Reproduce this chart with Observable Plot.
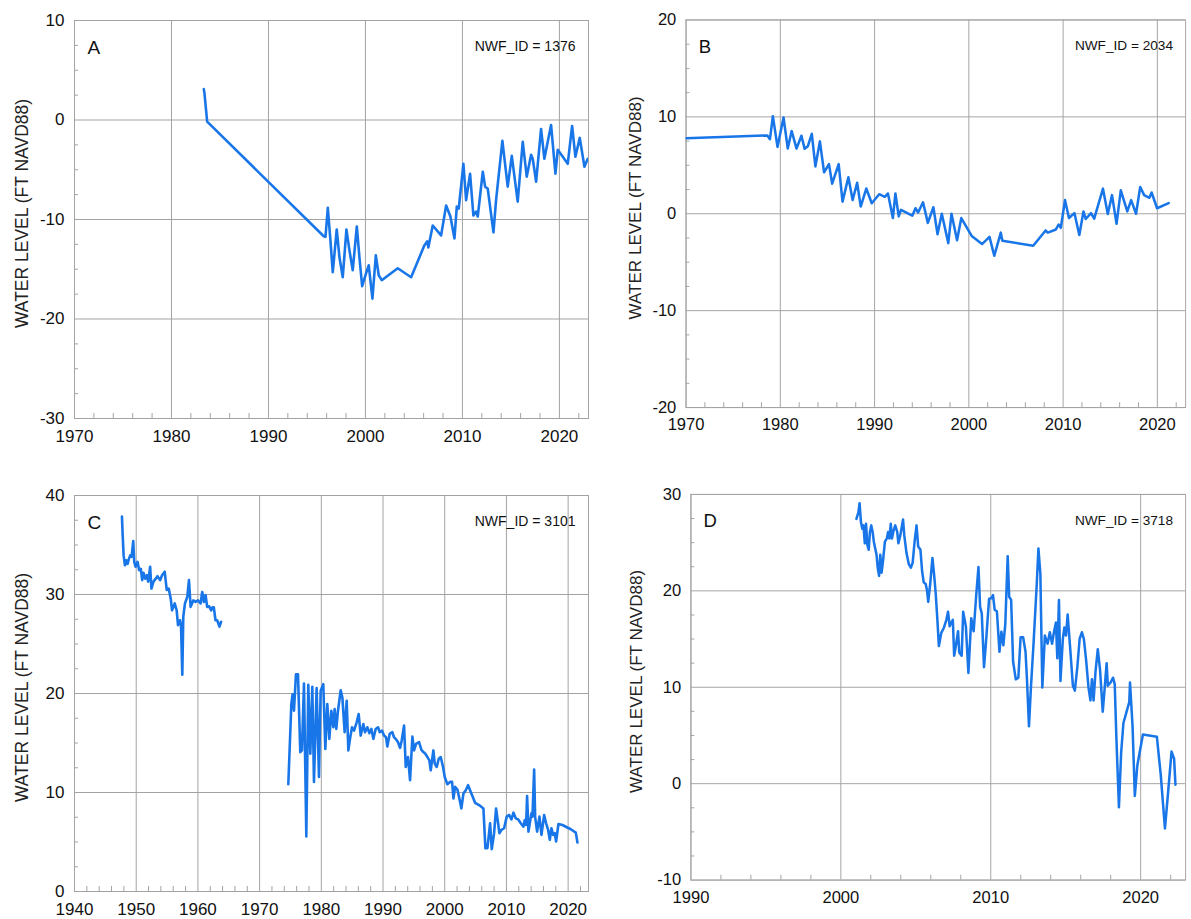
<!DOCTYPE html>
<html>
<head>
<meta charset="utf-8">
<script src="https://cdn.jsdelivr.net/npm/d3@7"></script>
<script src="https://cdn.jsdelivr.net/npm/@observablehq/plot@0.6"></script>
<style>
  html, body { margin: 0; padding: 0; background: #fff; overflow: hidden; }
  #wrap { position: relative; width: 1191px; height: 919px; overflow: hidden; background: #fff; }
  .panel { position: absolute; }
</style>
</head>
<body>
<div id="wrap"></div>
<script>
// ---------- text ----------
const panelLetters = ["A", "B", "C", "D"];
const wellIds = ["1376", "2034", "3101", "3718"];
const yAxisTitle = "WATER LEVEL (FT NAVD88)";

// ---------- tick labels ----------
const xTicksA = [1970, 1980, 1990, 2000, 2010, 2020];
const xTicksB = [1970, 1980, 1990, 2000, 2010, 2020];
const xTicksC = [1940, 1950, 1960, 1970, 1980, 1990, 2000, 2010, 2020];
const xTicksD = [1990, 2000, 2010, 2020];
const yTicksA = [-30, -20, -10, 0, 10];
const yTicksB = [-20, -10, 0, 10, 20];
const yTicksC = [0, 10, 20, 30, 40];
const yTicksD = [-10, 0, 10, 20, 30];

// ---------- series values [decimal year, water level ft NAVD88] ----------
const seriesA = [
  [1983.33,3.1],[1983.4,2.7],[1983.68,-0.17],[1995.70,-11.68],[1995.88,-11.74],[1996.12,-8.83],
  [1996.39,-12.1],[1996.63,-15.3],[1997.04,-11.0],[1997.32,-13.8],[1997.66,-15.8],[1998.04,-11.0],
  [1998.35,-13.1],[1998.69,-15.1],[1999.11,-10.7],[1999.38,-13.8],[1999.66,-16.7],[2000.07,-15.4],
  [2000.34,-14.6],[2000.72,-17.95],[2001.07,-13.6],[2001.37,-15.6],[2001.68,-16.1],[2003.33,-14.9],
  [2004.71,-15.8],[2006.08,-12.6],[2006.36,-12.2],[2006.49,-12.8],[2006.94,-10.6],[2007.80,-11.6],
  [2008.32,-8.6],[2008.76,-9.7],[2009.18,-11.9],[2009.42,-8.7],[2009.62,-8.9],[2010.10,-4.4],
  [2010.38,-8.05],[2010.79,-5.4],[2011.13,-9.6],[2011.41,-9.2],[2011.58,-9.7],[2012.10,-5.2],
  [2012.34,-6.7],[2012.61,-6.9],[2013.20,-11.3],[2013.47,-8.05],[2014.12,-2.1],[2014.67,-6.7],
  [2015.09,-3.6],[2015.70,-8.2],[2016.22,-2.2],[2016.63,-5.7],[2017.08,-3.5],[2017.25,-3.9],
  [2017.60,-6.2],[2018.11,-0.9],[2018.45,-3.9],[2019.14,-0.5],[2019.59,-5.4],[2019.83,-3.0],
  [2020.86,-4.4],[2021.31,-0.6],[2021.65,-3.7],[2022.10,-1.8],[2022.58,-4.7],[2022.92,-3.9]
];

const seriesB = [
  [1970.0,7.8],[1978.62,8.08],[1978.9,7.7],[1979.21,10.07],[1979.7,6.9],[1980.34,9.93],
  [1980.79,6.73],[1981.2,8.55],[1981.72,6.73],[1982.24,8.05],[1982.58,6.7],[1982.92,6.97],
  [1983.34,8.25],[1983.72,4.88],[1984.2,7.47],[1984.64,4.28],[1985.16,5.12],[1985.5,3.1],
  [1986.19,5.12],[1986.6,1.25],[1987.22,3.77],[1987.67,1.41],[1988.15,3.2],[1988.53,0.74],
  [1989.12,2.6],[1989.7,1.08],[1990.49,2.02],[1991.08,1.75],[1991.42,2.09],[1991.94,-0.44],
  [1992.21,2.09],[1992.56,-0.27],[1992.8,0.4],[1994.0,-0.2],[1994.34,0.57],[1994.62,0.13],
  [1995.14,1.18],[1995.65,-0.94],[1996.24,0.67],[1996.68,-2.12],[1997.13,0.0],[1997.82,-3.03],
  [1998.16,0.0],[1998.75,-2.73],[1999.2,-0.44],[2000.3,-2.29],[2001.4,-3.13],[2002.19,-2.39],
  [2002.7,-4.34],[2003.39,-1.95],[2003.56,-2.79],[2006.83,-3.3],[2008.14,-1.72],[2008.38,-1.95],
  [2009.24,-1.62],[2009.52,-1.11],[2009.76,-1.45],[2010.2,1.41],[2010.62,-0.44],[2011.2,0.07],
  [2011.72,-2.19],[2012.16,0.24],[2012.4,-0.54],[2012.96,0.07],[2013.3,-0.5],[2014.23,2.59],
  [2014.74,-0.03],[2015.19,1.92],[2015.67,-1.04],[2016.12,2.42],[2016.81,0.24],[2017.22,1.41],
  [2017.74,0.0],[2018.18,2.76],[2018.6,1.92],[2019.15,1.65],[2019.39,2.19],[2019.97,0.57],
  [2021.2,1.1]
];

const seriesC1 = [
  [1947.69,37.87],[1947.8,36.1],[1947.96,33.95],[1948.17,32.95],[1948.39,33.45],[1948.6,33.1],
  [1948.82,33.6],[1949.03,33.95],[1949.25,33.8],[1949.52,35.4],[1949.68,33.3],[1949.89,32.8],
  [1950.22,33.3],[1950.48,32.45],[1950.75,32.6],[1950.97,31.45],[1951.18,32.2],[1951.45,31.6],
  [1951.72,31.95],[1951.94,31.3],[1952.26,32.8],[1952.47,30.6],[1952.8,31.3],[1953.17,31.6],
  [1953.44,31.85],[1953.87,31.45],[1954.19,31.95],[1954.62,32.3],[1954.95,30.45],[1955.27,30.6],
  [1955.59,29.6],[1955.81,28.4],[1956.24,29.1],[1956.56,28.4],[1956.77,26.9],[1957.1,27.4],
  [1957.26,26.9],[1957.47,21.9],[1957.63,27.75],[1957.9,29.1],[1958.28,29.75],[1958.55,31.45],
  [1958.82,28.75],[1959.25,29.4],[1959.62,29.25],[1960.0,29.4],[1960.43,29.1],[1960.7,30.25],
  [1960.97,29.25],[1961.24,29.95],[1961.5,28.75],[1961.83,28.8],[1962.15,28.4],[1962.37,28.7],
  [1962.58,28.7],[1962.85,27.4],[1963.12,27.4],[1963.49,26.75],[1963.76,27.25]
];

const seriesC2 = [
  [1974.65,10.84],[1974.92,15.25],[1975.14,18.93],[1975.35,19.93],[1975.57,18.26],[1975.89,21.94],
  [1976.22,21.94],[1976.59,14.08],[1976.86,14.25],[1977.19,21.0],[1977.57,5.55],[1977.89,20.87],
  [1978.22,13.91],[1978.54,20.67],[1978.81,11.07],[1979.24,20.54],[1979.62,11.57],[1979.89,20.27],
  [1980.32,20.94],[1980.65,14.41],[1980.97,18.93],[1981.3,15.42],[1981.62,18.26],[1981.95,16.59],
  [1982.16,18.43],[1982.43,16.42],[1982.7,18.26],[1983.14,20.33],[1983.41,19.6],[1983.78,16.09],
  [1984.11,19.26],[1984.38,14.25],[1984.65,15.42],[1984.97,16.59],[1985.3,16.25],[1985.73,17.09],
  [1986.05,17.93],[1986.38,15.75],[1986.81,16.92],[1987.08,16.09],[1987.46,16.59],[1987.78,15.99],
  [1988.11,16.42],[1988.43,15.42],[1988.81,16.42],[1989.19,16.59],[1989.46,16.09],[1989.84,16.25],
  [1990.16,15.75],[1990.49,15.58],[1990.7,14.65],[1991.08,15.92],[1991.51,16.09],[1991.78,15.58],
  [1992.05,15.42],[1992.43,15.08],[1992.76,14.51],[1993.03,15.25],[1993.41,16.76],[1993.68,12.58],
  [1994.05,13.58],[1994.38,11.24],[1994.76,15.65],[1995.03,14.25],[1995.35,14.92],[1995.84,15.08],
  [1996.22,14.31],[1996.54,14.08],[1996.86,13.91],[1997.19,13.58],[1997.51,13.24],[1997.73,12.24],
  [1998.16,14.25],[1998.38,12.91],[1998.7,12.58],[1999.03,13.41],[1999.35,13.58],[1999.73,12.58],
  [2000.0,11.57],[2000.43,10.84],[2000.86,11.07],[2001.19,11.07],[2001.41,9.4],[2001.68,10.57],
  [2002.05,10.3],[2002.43,9.23],[2002.7,8.39],[2003.03,9.9],[2003.41,10.23],[2003.78,10.74],
  [2004.32,9.9],[2004.92,8.96],[2005.57,8.73],[2006.27,8.39],[2006.59,4.38],[2006.92,4.38],
  [2007.35,6.89],[2007.62,4.28],[2008.0,5.89],[2008.32,8.39],[2008.65,6.89],[2008.86,5.89],
  [2009.19,6.22],[2009.62,6.39],[2010.05,7.56],[2010.43,7.73],[2010.81,7.29],[2011.14,7.96],
  [2011.51,7.39],[2011.89,7.29],[2012.32,6.89],[2012.76,6.56],[2012.97,7.22],[2013.19,6.72],
  [2013.35,9.63],[2013.57,6.05],[2014.05,7.89],[2014.22,7.56],[2014.49,12.31],[2014.65,7.56],
  [2014.97,6.05],[2015.35,7.56],[2015.68,5.72],[2016.11,7.73],[2016.43,6.89],[2016.76,6.22],
  [2017.03,5.22],[2017.3,6.39],[2017.57,5.72],[2017.84,5.89],[2018.05,5.05],[2018.43,6.82],
  [2019.08,6.72],[2020.43,6.29],[2021.24,5.95],[2021.51,4.95]
];

const seriesD = [
  [2001.04,27.47],[2001.17,28.14],[2001.25,29.09],[2001.34,27.13],[2001.43,26.45],[2001.51,26.79],
  [2001.6,24.93],[2001.68,26.96],[2001.77,24.76],[2001.86,24.26],[2001.94,26.11],[2002.03,26.79],
  [2002.12,26.11],[2002.2,25.1],[2002.29,24.43],[2002.38,23.75],[2002.46,22.4],[2002.55,21.55],
  [2002.63,23.75],[2002.72,21.89],[2002.81,23.07],[2002.94,25.1],[2003.07,25.44],[2003.15,26.11],
  [2003.24,25.44],[2003.33,26.96],[2003.41,25.44],[2003.52,26.28],[2003.63,26.79],[2003.76,26.11],
  [2003.84,24.93],[2003.97,25.78],[2004.15,27.4],[2004.23,25.78],[2004.38,23.92],[2004.54,22.74],
  [2004.67,22.4],[2004.79,22.91],[2004.92,25.1],[2005.05,26.79],[2005.16,24.59],[2005.31,24.26],
  [2005.42,22.06],[2005.53,20.88],[2005.66,20.71],[2005.75,20.03],[2005.83,18.85],[2005.96,20.71],
  [2006.11,23.41],[2006.22,21.72],[2006.33,19.7],[2006.44,16.99],[2006.54,14.29],[2006.7,15.64],
  [2006.87,16.15],[2007.04,16.99],[2007.15,17.84],[2007.26,16.32],[2007.36,16.66],[2007.47,16.99],
  [2007.56,13.28],[2007.69,14.46],[2007.82,15.81],[2007.9,13.61],[2008.06,13.28],[2008.16,17.84],
  [2008.34,16.32],[2008.51,11.49],[2008.7,17.16],[2008.86,15.81],[2009.03,19.53],[2009.18,22.47],
  [2009.29,18.34],[2009.4,17.67],[2009.55,12.09],[2009.68,14.63],[2009.89,19.19],[2010.04,19.23],
  [2010.15,19.56],[2010.26,18.05],[2010.41,17.88],[2010.58,13.68],[2010.71,15.76],[2010.84,14.35],
  [2010.97,16.54],[2011.13,23.6],[2011.23,19.39],[2011.36,19.06],[2011.49,12.67],[2011.67,10.82],
  [2011.84,10.99],[2011.99,15.19],[2012.16,15.19],[2012.32,13.68],[2012.42,10.66],[2012.55,5.95],
  [2012.68,9.98],[2012.86,14.69],[2013.07,20.74],[2013.18,24.4],[2013.31,21.75],[2013.44,9.98],
  [2013.61,15.36],[2013.79,14.52],[2013.94,15.7],[2014.09,14.52],[2014.22,15.76],[2014.35,16.71],
  [2014.44,13.01],[2014.55,19.06],[2014.65,10.66],[2014.81,15.03],[2014.91,16.2],[2015.02,15.36],
  [2015.13,17.55],[2015.3,14.02],[2015.48,10.15],[2015.61,9.65],[2015.78,12.17],[2015.93,15.03],
  [2016.08,15.7],[2016.21,15.03],[2016.36,12.84],[2016.52,9.98],[2016.65,8.64],[2016.75,10.82],
  [2016.86,8.64],[2016.99,11.66],[2017.14,13.95],[2017.29,11.83],[2017.47,7.46],[2017.62,10.32],
  [2017.73,12.5],[2017.81,10.15],[2017.99,10.49],[2018.16,10.99],[2018.27,10.32],[2018.38,4.77],
  [2018.55,-2.45],[2018.7,3.26],[2018.85,6.29],[2019.03,7.29],[2019.24,8.47],[2019.29,10.49],
  [2019.46,5.95],[2019.61,-1.28],[2019.78,1.92],[2020.15,5.11],[2021.08,4.87],[2021.34,0.91],
  [2021.62,-4.64],[2021.8,-1.45],[2022.06,3.33],[2022.23,2.59],[2022.32,-0.1]
];

// ---------- styles ----------
const LINE_COLOR = "#1976e8";
const GRID_COLOR = "#a3a3a3";
const FONT = "'Liberation Sans', Arial, Helvetica, sans-serif";

function makePanel(cfg) {
  const {letter, id, series, xDomain, yDomain, xTicks, yTicks,
         width, height, mL, mR, mT, mB, titleDx} = cfg;
  const plotW = width - mL - mR;
  const plotH = height - mT - mB;
  const xMinor = d3.range(xDomain[0], xDomain[1] + 0.001, 2).filter(v => v % 10 !== 0);
  const yMinor = d3.range(yDomain[0], yDomain[1] + 0.001, 2.5).filter(v => v % 10 !== 0);

  const marks = [
    Plot.gridX(xTicks, {stroke: GRID_COLOR, strokeOpacity: 1, strokeWidth: 1}),
    Plot.gridY(yTicks, {stroke: GRID_COLOR, strokeOpacity: 1, strokeWidth: 1}),
    Plot.frame({stroke: GRID_COLOR, strokeWidth: 1}),
    Plot.tickX(xMinor, {x: d => d, insetTop: plotH - 5, stroke: GRID_COLOR, strokeWidth: 1}),
    Plot.tickY(yMinor, {y: d => d, insetRight: plotW - 4, stroke: GRID_COLOR, strokeWidth: 1}),
    Plot.axisX(xTicks, {tickSize: 0, tickPadding: 11, tickFormat: d => String(d), label: null, fontSize: 17}),
    Plot.axisY(yTicks, {tickSize: 0, tickPadding: 10, tickFormat: d => String(d), label: null, fontSize: 17}),
  ];
  for (const s of series) {
    marks.push(Plot.line(s, {x: d => d[0], y: d => d[1], stroke: LINE_COLOR, strokeWidth: 2.6,
      strokeLinejoin: "round", clip: true}));
  }
  marks.push(
    Plot.text([yAxisTitle], {text: d => d, frameAnchor: "left", textAnchor: "middle", lineAnchor: "middle",
      rotate: -90, dx: titleDx, dy: -6, fontSize: 17.5, fill: "#222"}),
    Plot.text([letter], {text: d => d, frameAnchor: "top-left", textAnchor: "start", dx: 13, dy: 20,
      fontSize: 19, fill: "#111"}),
    Plot.text([`NWF_ID = ${id}`], {text: d => d, frameAnchor: "top-right", textAnchor: "end", dx: -13, dy: 21,
      fontSize: 14, fill: "#111"})
  );

  return Plot.plot({
    width, height,
    marginLeft: mL, marginRight: mR, marginTop: mT, marginBottom: mB,
    x: {domain: xDomain},
    y: {domain: yDomain},
    style: {fontFamily: FONT, fontSize: "17px", color: "#111", background: "white", overflow: "visible"},
    marks
  });
}

const wrap = document.getElementById("wrap");
const panels = [
  {left: 0, top: 0, cfg: {letter: panelLetters[0], id: wellIds[0], series: [seriesA],
    xDomain: [1970, 2023], yDomain: [-30, 10], xTicks: xTicksA, yTicks: yTicksA,
    width: 595, height: 455, mL: 74, mR: 7, mT: 20, mB: 37, titleDx: -52}},
  {left: 595, top: 0, cfg: {letter: panelLetters[1], id: wellIds[1], series: [seriesB],
    xDomain: [1970, 2023], yDomain: [-20, 20], xTicks: xTicksB, yTicks: yTicksB,
    width: 612, height: 455, mL: 93, mR: 6, mT: 20, mB: 37, titleDx: -52}},
  {left: 0, top: 455, cfg: {letter: panelLetters[2], id: wellIds[2], series: [seriesC1, seriesC2],
    xDomain: [1940, 2023.3], yDomain: [0, 40], xTicks: xTicksC, yTicks: yTicksC,
    width: 595, height: 464, mL: 74, mR: 7, mT: 40, mB: 28, titleDx: -52}},
  {left: 595, top: 455, cfg: {letter: panelLetters[3], id: wellIds[3], series: [seriesD],
    xDomain: [1990, 2023], yDomain: [-10, 30], xTicks: xTicksD, yTicks: yTicksD,
    width: 612, height: 464, mL: 98, mR: 6, mT: 40, mB: 28, titleDx: -56}},
];
for (const p of panels) {
  const div = document.createElement("div");
  div.className = "panel";
  div.style.left = p.left + "px";
  div.style.top = p.top + "px";
  div.appendChild(makePanel(p.cfg));
  wrap.appendChild(div);
}
</script>
</body>
</html>
